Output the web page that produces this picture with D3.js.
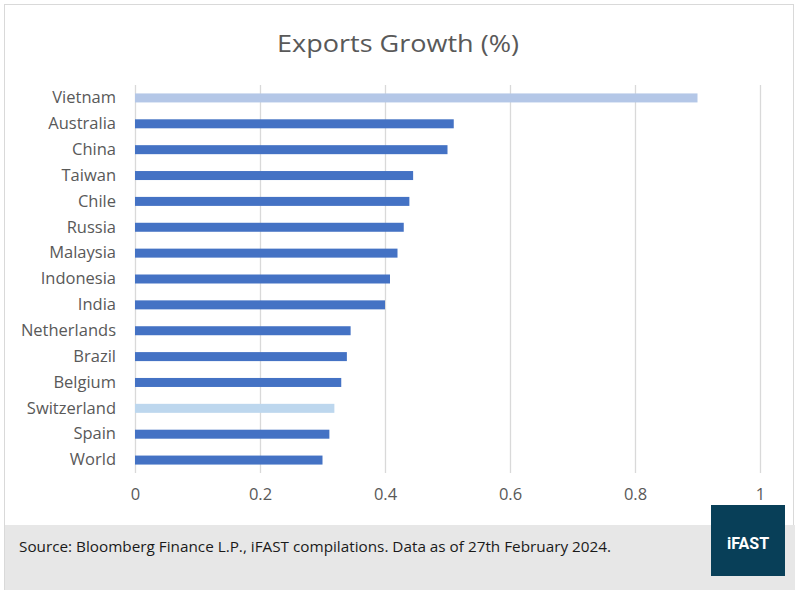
<!DOCTYPE html>
<html>
<head>
<meta charset="utf-8">
<script src="https://cdn.jsdelivr.net/npm/d3@7"></script>
<style>
  html, body { margin: 0; padding: 0; background: #fff; }
  svg { display: block; }
</style>
</head>
<body>
<svg id="chart" width="795" height="590"></svg>
<script>
// ---- data ----
const categories = ["Vietnam", "Australia", "China", "Taiwan", "Chile", "Russia", "Malaysia",
  "Indonesia", "India", "Netherlands", "Brazil", "Belgium", "Switzerland", "Spain", "World"];
const values = [0.90, 0.51, 0.50, 0.445, 0.439, 0.43, 0.42, 0.408, 0.40, 0.345, 0.339, 0.33, 0.319, 0.311, 0.30];
const highlight = { "Vietnam": "#b4c7e7", "Switzerland": "#bdd7ee" };
const tickValues = [0, 0.2, 0.4, 0.6, 0.8, 1];
const titleText = "Exports Growth (%)";
const sourceText = "Source: Bloomberg Finance L.P., iFAST compilations. Data as of 27th February 2024.";
const logoText = "iFAST";

const svg = d3.select("#chart");
const font = "'Open Sans', 'Noto Sans', sans-serif";

// outer frame
svg.append("rect").attr("x", 4.5).attr("y", 4.5).attr("width", 789).attr("height", 590)
  .attr("fill", "#fff").attr("stroke", "#d9d9d9").attr("stroke-width", 1);

// footer band
svg.append("rect").attr("x", 5).attr("y", 525).attr("width", 790).attr("height", 65)
  .attr("fill", "#e7e7e7");

const x = d3.scaleLinear().domain([0, 1]).range([135, 760]);
const y = d3.scaleBand().domain(categories).range([85, 473]).padding(0);

// gridlines
const xAxis = d3.axisBottom(x).tickValues(tickValues).tickFormat(d3.format("~g"))
  .tickSize(-(473 - 85)).tickPadding(18);
const gx = svg.append("g").attr("transform", "translate(0,473)").call(xAxis);
gx.select(".domain").remove();
gx.selectAll(".tick line").attr("stroke", "#d9d9d9").attr("stroke-width", 1.3);
gx.selectAll(".tick text").attr("fill", "#595959").attr("font-size", 16.5)
  .attr("font-family", font).attr("dy", "0.55em");

// bars
const barH = 9;
svg.append("g").selectAll("rect").data(categories).join("rect")
  .attr("x", x(0))
  .attr("y", d => y(d) + y.bandwidth() / 2 - barH / 2)
  .attr("width", (d, i) => x(values[i]) - x(0))
  .attr("height", barH)
  .attr("fill", d => highlight[d] || "#4472c4");

// category labels
const yAxis = d3.axisLeft(y).tickSize(0).tickPadding(19);
const gy = svg.append("g").attr("transform", "translate(135,0)").call(yAxis);
gy.select(".domain").remove();
gy.selectAll(".tick text").attr("fill", "#595959").attr("font-size", 16.5)
  .attr("font-family", font);

// title
svg.append("text").attr("x", 398).attr("y", 42).attr("text-anchor", "middle")
  .attr("dominant-baseline", "central")
  .attr("font-family", font).attr("font-size", 24).attr("fill", "#595959")
  .attr("textLength", 242).attr("lengthAdjust", "spacingAndGlyphs")
  .text(titleText);

// source
svg.append("text").attr("x", 19).attr("y", 546).attr("dominant-baseline", "central")
  .attr("font-family", font).attr("font-size", 14).attr("fill", "#1a1a1a")
  .attr("textLength", 592).attr("lengthAdjust", "spacingAndGlyphs")
  .text(sourceText);

// logo
svg.append("rect").attr("x", 711).attr("y", 505).attr("width", 74).attr("height", 71)
  .attr("fill", "#083f58");
svg.append("text").attr("x", 748).attr("y", 543).attr("text-anchor", "middle")
  .attr("dominant-baseline", "central")
  .attr("font-family", "Roboto, 'Open Sans', sans-serif").attr("font-weight", "bold")
  .attr("font-size", 16).attr("fill", "#fff").text(logoText);
</script>
</body>
</html>
